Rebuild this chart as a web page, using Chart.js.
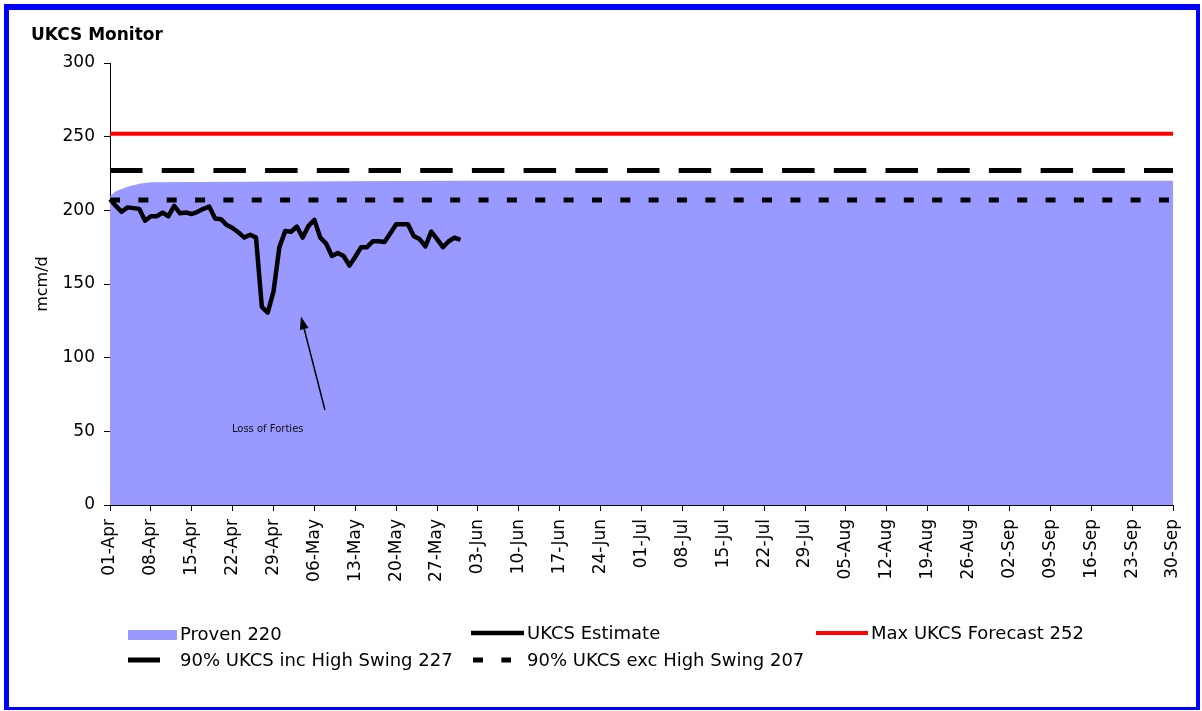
<!DOCTYPE html>
<html>
<head>
<meta charset="utf-8">
<title>UKCS Monitor</title>
<script src="https://cdn.jsdelivr.net/npm/chart.js@4.4.1/dist/chart.umd.min.js"></script>
<style>
html, body { margin: 0; padding: 0; background: #fff; }
#wrap { position: relative; width: 1202px; height: 711px; }
#frame {
	position: absolute; left: 4px; top: 4px; width: 1187px; height: 697px;
	border-style: solid; border-color: #0000ff; border-width: 6px 4px 3px 5px;
	pointer-events: none;
}
</style>
</head>
<body>
<div id="wrap">
	<canvas id="ukcsChart"></canvas>
	<div id="frame"></div>
</div>
<script>
//
// data
//
var months = ['Apr', 'May', 'Jun', 'Jul', 'Aug', 'Sep'];
var monthDays = [30, 31, 30, 31, 31, 30];

var dayLabels = [];
for (var m = 0; m < months.length; m++) {
	for (var d = 1; d <= monthDays[m]; d++) {
		dayLabels.push((d < 10 ? '0' : '') + d + '-' + months[m]);
	}
}

// daily UKCS estimate, 01-Apr .. 31-May
var estimateValues = [
	207.5, 203, 199, 202, 201.5, 201, 193, 196, 196, 198.5,
	196, 203, 198, 198.5, 197.5, 199, 201, 202.5, 194.5, 194,
	190, 188, 185, 181.5, 183.5, 181.5, 134.5, 130.5, 145, 175,
	186, 185.5, 189, 181.5, 189.5, 193.5, 181.5, 177.5, 169, 171,
	169, 162.5, 168.5, 175, 175, 179, 179, 178.5, 184.5, 190.5,
	190.5, 190.5, 182.5, 180.5, 175.5, 185.5, 180.5, 175, 179, 181.5, 180
];

// proven area: ramps up in the first week then sits at 220
var provenDays = ['01-Apr', '02-Apr', '03-Apr', '04-Apr', '05-Apr', '06-Apr', '07-Apr', '08-Apr', '01-May', '31-May', '30-Sep'];
var provenValues = [209.5, 213, 214.5, 216, 217, 218, 218.5, 219, 219.5, 220, 220];

var maxForecast = 252;
var swingInc = 227;
var swingExc = 207;

var yTicks = [0, 50, 100, 150, 200, 250, 300];

var noteText = 'Loss of Forties';
var noteAt = { day: 27, value: 51 };
var arrowFrom = { day: 36.8, value: 64.5 };
var arrowTo = { day: 32.7, value: 128 };

//
// helpers
//
var FONT = "'DejaVu Sans', sans-serif";

function flatLine(v) {
	return [{ x: dayLabels[0], y: v }, { x: dayLabels[dayLabels.length - 1], y: v }];
}

function pairs(xs, ys) {
	return xs.map(function(x, i) { return { x: x, y: ys[i] }; });
}

var datasets = [
	{
		label: 'Proven 220',
		data: pairs(provenDays, provenValues),
		fill: 'origin',
		backgroundColor: '#9999ff',
		borderColor: 'rgba(0,0,0,0)',
		borderWidth: 0,
		pointRadius: 0,
		order: 3,
		legendKind: 'box'
	},
	{
		label: 'UKCS Estimate',
		data: estimateValues,
		borderColor: '#000',
		borderWidth: 4.5,
		borderJoinStyle: 'round',
		pointRadius: 0,
		order: 0,
		legendKind: 'line'
	},
	{
		label: 'Max UKCS Forecast 252',
		data: flatLine(maxForecast),
		borderColor: '#ff0000',
		borderWidth: 4,
		pointRadius: 0,
		order: 1,
		legendKind: 'line'
	},
	{
		label: '90% UKCS inc High Swing 227',
		data: flatLine(swingInc),
		borderColor: '#000',
		borderWidth: 5,
		borderDash: [32.5, 19.2],
		pointRadius: 0,
		order: 1,
		legendKind: 'line'
	},
	{
		label: '90% UKCS exc High Swing 207',
		data: flatLine(swingExc),
		borderColor: '#000',
		borderWidth: 5,
		borderDash: [10, 18.35],
		pointRadius: 0,
		order: 1,
		legendKind: 'line'
	}
];

// where each legend entry sits (symbol start, symbol end, text x, row y)
var legendSpots = [
	{ x0: 128, x1: 177, tx: 180, y: 635 },
	{ x0: 471, x1: 524, tx: 527, y: 634 },
	{ x0: 816, x1: 868, tx: 871, y: 634 },
	{ x0: 128, x1: 160, tx: 180, y: 661 },
	{ x0: 473, x1: 511, tx: 527, y: 661 }
];

var extras = {
	id: 'ukcsExtras',
	afterDatasetsDraw: function(chart) {
		var ctx = chart.ctx;
		var xs = chart.scales.x, ys = chart.scales.y;
		var x1 = xs.getPixelForValue(arrowFrom.day), y1 = ys.getPixelForValue(arrowFrom.value);
		var x2 = xs.getPixelForValue(arrowTo.day), y2 = ys.getPixelForValue(arrowTo.value);
		var ang = Math.atan2(y2 - y1, x2 - x1);
		ctx.save();
		ctx.strokeStyle = '#000';
		ctx.fillStyle = '#000';
		ctx.lineWidth = 1.5;
		ctx.beginPath();
		ctx.moveTo(x1, y1);
		ctx.lineTo(x2 - 8 * Math.cos(ang), y2 - 8 * Math.sin(ang));
		ctx.stroke();
		ctx.beginPath();
		ctx.moveTo(x2, y2);
		ctx.lineTo(x2 - 13 * Math.cos(ang) + 4.5 * Math.sin(ang), y2 - 13 * Math.sin(ang) - 4.5 * Math.cos(ang));
		ctx.lineTo(x2 - 13 * Math.cos(ang) - 4.5 * Math.sin(ang), y2 - 13 * Math.sin(ang) + 4.5 * Math.cos(ang));
		ctx.closePath();
		ctx.fill();

		ctx.font = '10px ' + FONT;
		ctx.fillStyle = '#111';
		ctx.textAlign = 'center';
		ctx.textBaseline = 'middle';
		ctx.fillText(noteText, xs.getPixelForValue(noteAt.day), ys.getPixelForValue(noteAt.value));
		ctx.restore();
	},
	afterDraw: function(chart) {
		var ctx = chart.ctx;
		ctx.save();
		// title
		ctx.font = 'bold 17px ' + FONT;
		ctx.fillStyle = '#000';
		ctx.textAlign = 'left';
		ctx.textBaseline = 'alphabetic';
		ctx.fillText('UKCS Monitor', 31, 40);

		// legend
		ctx.font = '18px ' + FONT;
		ctx.textBaseline = 'middle';
		chart.data.datasets.forEach(function(ds, i) {
			var s = legendSpots[i];
			if (ds.legendKind === 'box') {
				ctx.fillStyle = ds.backgroundColor;
				ctx.fillRect(s.x0, s.y - 5, s.x1 - s.x0, 10);
			} else {
				ctx.strokeStyle = ds.borderColor;
				ctx.lineWidth = ds.borderWidth;
				ctx.setLineDash(ds.borderDash || []);
				ctx.beginPath();
				ctx.moveTo(s.x0, s.y - 1);
				ctx.lineTo(s.x1, s.y - 1);
				ctx.stroke();
				ctx.setLineDash([]);
			}
			ctx.fillStyle = '#000';
			ctx.fillText(ds.label, s.tx, s.y);
		});
		ctx.restore();
	}
};

function createUkcsChart() {
	var ctx = document.getElementById('ukcsChart');
	var tickFont = { family: FONT, size: 17 };

	return new Chart(ctx, {
		type: 'line',
		data: { labels: dayLabels, datasets: datasets },
		plugins: [extras],
		options: {
			responsive: true,
			maintainAspectRatio: false,
			animation: false,
			events: [],
			layout: { padding: { left: 29, right: 29, top: 63, bottom: 106 } },
			elements: { line: { tension: 0 } },
			plugins: { legend: { display: false }, tooltip: { enabled: false } },
			scales: {
				x: {
					type: 'category',
					offset: false,
					afterFit: function(s) { s.height = 100; },
					grid: {
						drawOnChartArea: false,
						drawTicks: true,
						tickLength: 6,
						color: function(c) { return c.index % 7 === 0 ? '#000' : 'rgba(0,0,0,0)'; }
					},
					border: { display: true, color: '#000', width: 1 },
					ticks: {
						autoSkip: false,
						maxRotation: 90,
						minRotation: 90,
						padding: 8,
						color: '#000',
						font: tickFont,
						callback: function(v, i) { return i % 7 === 0 ? dayLabels[i] : ''; }
					}
				},
				y: {
					min: yTicks[0],
					max: yTicks[yTicks.length - 1],
					afterFit: function(s) { s.width = 81; },
					title: { display: true, text: 'mcm/d', color: '#000', font: { family: FONT, size: 16 } },
					grid: { drawOnChartArea: false, drawTicks: true, tickLength: 6, color: '#000' },
					border: { display: true, color: '#000', width: 1 },
					ticks: { stepSize: 50, padding: 9, color: '#000', font: tickFont }
				}
			}
		}
	});
}

createUkcsChart();
</script>
</body>
</html>
